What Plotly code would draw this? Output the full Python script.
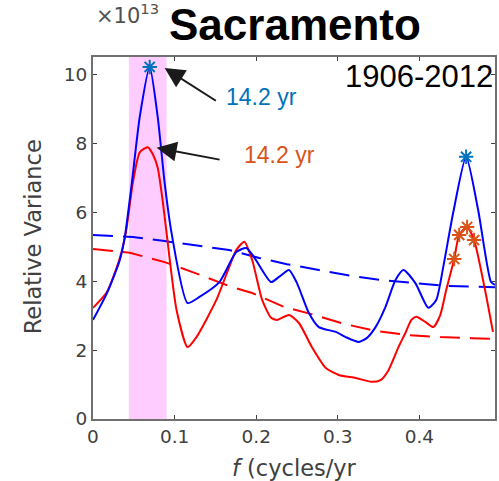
import plotly.graph_objects as go

# ---- data (values in units of 1e13) ----
blue_f = [0, 0.0171, 0.0329, 0.0390, 0.0476, 0.0573, 0.0695, 0.0793, 0.0878, 0.0963,
          0.1159, 0.1305, 0.1549, 0.1756, 0.1878, 0.1976, 0.2183, 0.2280, 0.2402, 0.2500,
          0.2646, 0.2768, 0.2976, 0.3098, 0.3256, 0.3354, 0.3463, 0.3585, 0.3707, 0.3805,
          0.3951, 0.4110, 0.4207, 0.4293, 0.4415, 0.4573, 0.4720, 0.4878, 0.4927]
blue_v = [2.88, 3.66, 4.62, 5.30, 6.86, 8.78, 10.23, 8.78, 6.86, 5.40,
          3.37, 3.55, 3.98, 4.85, 4.97, 4.70, 3.98, 4.13, 4.33, 3.95,
          3.08, 2.67, 2.53, 2.38, 2.24, 2.35, 2.67, 3.26, 4.04, 4.33,
          3.95, 3.23, 3.46, 4.42, 6.00, 7.62, 6.08, 3.98, 3.90]

red_f = [0, 0.0171, 0.0329, 0.0402, 0.0488, 0.0573, 0.0671, 0.0732, 0.0793, 0.0854,
         0.0902, 0.1024, 0.1159, 0.1268, 0.1512, 0.1670, 0.1756, 0.1854, 0.1951, 0.2073,
         0.2183, 0.2256, 0.2402, 0.2524, 0.2683, 0.2854, 0.3012, 0.3220, 0.3415, 0.3524,
         0.3622, 0.3744, 0.3829, 0.3902, 0.3963, 0.4073, 0.4171, 0.4256, 0.4329, 0.4427,
         0.4488, 0.4585, 0.4671, 0.4805, 0.4902]
red_v = [3.23, 3.69, 4.68, 5.40, 6.86, 7.75, 7.90, 7.70, 7.30, 6.34,
         5.40, 3.17, 2.09, 2.38, 3.46, 4.42, 4.91, 5.15, 4.62, 3.46,
         2.94, 2.88, 3.02, 2.79, 2.09, 1.48, 1.28, 1.19, 1.08, 1.13,
         1.42, 2.09, 2.50, 2.88, 2.97, 2.82, 2.67, 3.02, 3.75, 4.65,
         5.35, 5.58, 5.20, 3.75, 2.53]

blue_bound_f = [0, 0.0488, 0.0878, 0.1207, 0.1670, 0.2037, 0.2378, 0.2768, 0.3159,
                0.3537, 0.3963, 0.4317, 0.4732, 0.4927]
blue_bound_v = [5.35, 5.29, 5.17, 5.06, 4.91, 4.68, 4.50, 4.33, 4.16,
                4.04, 3.95, 3.87, 3.84, 3.83]

red_bound_f = [0, 0.0451, 0.0878, 0.1220, 0.1695, 0.1951, 0.2341, 0.2720, 0.3085,
               0.3463, 0.3866, 0.4256, 0.4634, 0.4927]
red_bound_v = [4.94, 4.83, 4.56, 4.27, 3.84, 3.66, 3.26, 3.02, 2.76,
               2.56, 2.44, 2.38, 2.35, 2.33]

blue_star_f = [0.0695, 0.4573]
blue_star_v = [10.23, 7.62]
red_star_f = [0.4427, 0.4488, 0.4585, 0.4671]
red_star_v = [4.65, 5.35, 5.58, 5.20]

band_f = [0.044, 0.0902]

# arrow tips / tails in data units (f, value)
blue_arrow = [0.0878, 10.2, 0.1524, 9.22]
red_arrow = [0.078, 7.88, 0.157, 7.53]

x_ticks = [0, 0.1, 0.2, 0.3, 0.4]
x_tick_text = ["0", "0.1", "0.2", "0.3", "0.4"]
y_ticks = [0, 2, 4, 6, 8, 10]
y_tick_text = ["0", "2", "4", "6", "8", "10"]

title_text = "Sacramento"
period_text = "1906-2012"
peak_label = "14.2 yr"

BLUE = "#0000FF"
RED = "#FF0000"
M_BLUE = "#0072BD"
M_ORANGE = "#D95319"

W, H = 499, 481
L, R, T, B = 93, 2, 57, 62
pw, ph = W - L - R, H - T - B


def px(x):
    return (x - L) / pw


def py(y):
    return 1 - (y - T) / ph


fig = go.Figure()

fig.add_shape(type="rect", xref="x", yref="paper", x0=band_f[0], x1=band_f[1],
              y0=0, y1=1, fillcolor="rgb(255,204,255)", line_width=0, layer="below")

fig.add_trace(go.Scatter(x=blue_bound_f, y=blue_bound_v, mode="lines",
                         line=dict(color=BLUE, width=2, dash="20px,10px"),
                         showlegend=False))
fig.add_trace(go.Scatter(x=red_bound_f, y=red_bound_v, mode="lines",
                         line=dict(color=RED, width=2, dash="20px,10px"),
                         showlegend=False))
fig.add_trace(go.Scatter(x=red_f, y=red_v, mode="lines",
                         line=dict(color=RED, width=2, shape="spline", smoothing=0.6),
                         showlegend=False))
fig.add_trace(go.Scatter(x=blue_f, y=blue_v, mode="lines",
                         line=dict(color=BLUE, width=2, shape="spline", smoothing=0.6),
                         showlegend=False))
fig.add_trace(go.Scatter(x=blue_star_f, y=blue_star_v, mode="markers",
                         marker=dict(symbol="asterisk-open", size=12, color=M_BLUE,
                                     line=dict(color=M_BLUE, width=2)),
                         showlegend=False))
fig.add_trace(go.Scatter(x=red_star_f, y=red_star_v, mode="markers",
                         marker=dict(symbol="asterisk-open", size=12, color=M_ORANGE,
                                     line=dict(color=M_ORANGE, width=2)),
                         showlegend=False))

for a in (blue_arrow, red_arrow):
    fig.add_annotation(x=a[0], y=a[1], ax=a[2], ay=a[3], xref="x", yref="y",
                       axref="x", ayref="y", text="", showarrow=True,
                       arrowhead=2, arrowsize=2.0, arrowwidth=2, arrowcolor="#1a1a1a")


def label(x, y, text, size, color, family="Liberation Sans", xanchor="center", angle=0):
    fig.add_annotation(x=px(x), y=py(y), xref="paper", yref="paper", text=text,
                       xanchor=xanchor, yanchor="middle", textangle=angle,
                       showarrow=False, font=dict(family=family, size=size, color=color))


label(262, 97, peak_label, 23, M_BLUE)
label(280, 155, peak_label, 23, M_ORANGE)
label(296, 24, "<b>" + title_text + "</b>", 44, "black")
label(94, 14, "×10<sup>13</sup>", 21, "#505050", family="DejaVu Sans", xanchor="left")
label(497, 76, period_text, 31, "black", xanchor="right")
label(33, 237, "Relative Variance", 22.5, "#404040", family="DejaVu Sans", angle=-90)
label(296, 468, "<i>f</i> (cycles/yr", 22.5, "#404040", family="DejaVu Sans")

fig.update_layout(
    width=W, height=H,
    margin=dict(l=L, r=R, t=T, b=B),
    plot_bgcolor="white", paper_bgcolor="white",
    showlegend=False,
    xaxis=dict(range=[0, 0.4927], tickvals=x_ticks, ticktext=x_tick_text,
               ticks="inside", ticklen=4, tickcolor="#404040",
               showline=True, linecolor="#707070", linewidth=2, mirror="ticks",
               showgrid=False, zeroline=False,
               tickfont=dict(family="DejaVu Sans", size=18.5, color="#404040")),
    yaxis=dict(range=[0, 10.52], tickvals=y_ticks, ticktext=y_tick_text,
               ticks="inside", ticklen=4, tickcolor="#404040",
               showline=True, linecolor="#707070", linewidth=2, mirror="ticks",
               showgrid=False, zeroline=False,
               tickfont=dict(family="DejaVu Sans", size=18.5, color="#404040")),
)

fig.write_html("out.html", config={"displayModeBar": False},
               post_script="document.body.style.margin='0';document.body.style.overflow='hidden';")
